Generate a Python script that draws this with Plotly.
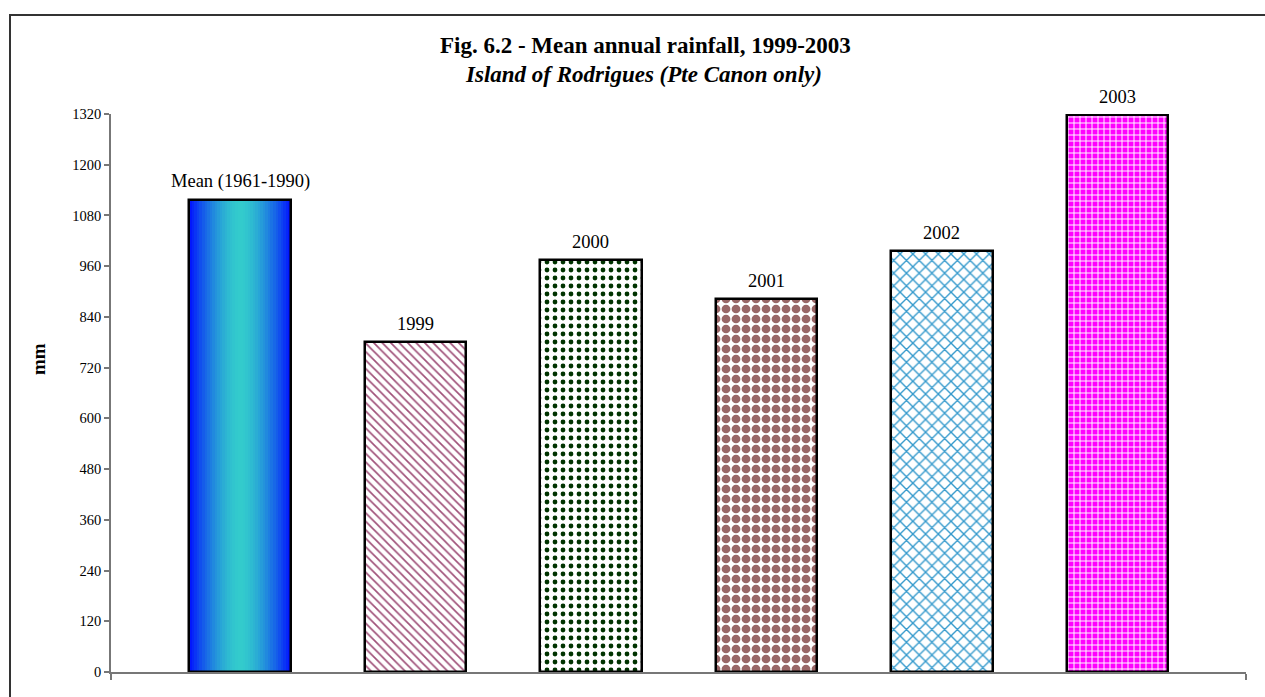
import plotly.graph_objects as go

# ---- data ----
categories = ["Mean (1961-1990)", "1999", "2000", "2001", "2002", "2003"]
rainfall_mm = [1116, 780, 975, 883, 996, 1318]
y_ticks = [0, 120, 240, 360, 480, 600, 720, 840, 960, 1080, 1200, 1320]

# ---- styles (years only) ----
pattern_shapes = ["\\", ".", ".", "x", "+"]
pattern_fg = ["#A0527A", "#003300", "#996666", "#3399CC", "#FFFFFF"]
pattern_bg = ["#FFFFFF", "#FFFFFF", "#FFFFFF", "#FFFFFF", "#FF00FF"]
pattern_size = [6, 8, 10, 9, 6]
pattern_solidity = [0.28, 0.28, 0.6, 0.28, 0.3]

FONT = "Liberation Serif, Times New Roman, serif"
BAR_W = 0.578

x_pos = list(range(len(categories)))

fig = go.Figure()

# gradient for the mean bar (vertical strips, blue edges -> turquoise centre)
N = 40
edge = (0, 16, 255)
centre = (51, 204, 204)
strip_w = BAR_W / N
for i in range(N):
    t = abs((i + 0.5) - N / 2) / (N / 2)
    t = t ** 1.6
    col = tuple(round(centre[k] + (edge[k] - centre[k]) * t) for k in range(3))
    fig.add_trace(go.Bar(
        x=[x_pos[0]], y=[rainfall_mm[0]],
        width=strip_w * 1.05, offset=-BAR_W / 2 + i * strip_w,
        marker=dict(color="rgb(%d,%d,%d)" % col, line=dict(width=0)),
        hoverinfo="skip", showlegend=False,
    ))

# mean outline
fig.add_trace(go.Bar(
    x=[x_pos[0]], y=[rainfall_mm[0]], width=BAR_W,
    marker=dict(color="rgba(0,0,0,0)", line=dict(color="#000000", width=2.5)),
    showlegend=False, hovertext=[categories[0]], hoverinfo="text+y",
))

# year bars, one trace each with its own pattern
for j in range(1, len(categories)):
    k = j - 1
    fig.add_trace(go.Bar(
        x=[x_pos[j]], y=[rainfall_mm[j]], width=BAR_W,
        marker=dict(
            color=pattern_bg[k],
            line=dict(color="#000000", width=2.5),
            pattern=dict(shape=pattern_shapes[k], fgcolor=pattern_fg[k],
                         bgcolor=pattern_bg[k], size=pattern_size[k],
                         solidity=pattern_solidity[k], fillmode="overlay",
                         fgopacity=1),
        ),
        showlegend=False, hovertext=[categories[j]], hoverinfo="text+y",
    ))

# data labels
for xi, yi, lab in zip(x_pos, rainfall_mm, categories):
    fig.add_annotation(x=xi, y=yi, text=lab, showarrow=False, yanchor="bottom",
                       yshift=6, font=dict(family=FONT, size=18.5, color="#000000"))

# plot geometry (pixels)
L, R, T, B = 111, 19, 114, 25
W, H = 1265, 697
pw, ph = W - L - R, H - T - B
def px_x(x):
    return (x - L) / pw
def px_y(y):
    return (H - B - y) / ph

# titles
fig.add_annotation(xref="paper", yref="paper", x=px_x(645), y=px_y(46),
                   text="<b>Fig. 6.2 - Mean annual rainfall, 1999-2003</b>",
                   showarrow=False, xanchor="center", yanchor="middle",
                   font=dict(family=FONT, size=23, color="#000000"))
fig.add_annotation(xref="paper", yref="paper", x=px_x(643), y=px_y(74),
                   text="<b><i>Island of Rodrigues (Pte Canon only)</i></b>",
                   showarrow=False, xanchor="center", yanchor="middle",
                   font=dict(family=FONT, size=23, color="#000000"))
fig.add_annotation(xref="paper", yref="paper", x=px_x(38), y=px_y(359),
                   text="<b>mm</b>", textangle=-90,
                   showarrow=False, xanchor="center", yanchor="middle",
                   font=dict(family=FONT, size=19, color="#000000"))

# outer frame
fig.add_shape(type="rect", xref="paper", yref="paper",
              x0=px_x(10), x1=px_x(1290), y0=px_y(720), y1=px_y(15),
              line=dict(color="#333333", width=2), fillcolor="rgba(0,0,0,0)", layer="below")

x_lo = (111 - 240) / 175.4
x_hi = (1245.7 - 240) / 175.4

fig.update_layout(
    width=W, height=H,
    margin=dict(l=L, r=R, t=T, b=B, pad=0),
    paper_bgcolor="#FFFFFF", plot_bgcolor="#FFFFFF",
    barmode="overlay", bargap=0,
    showlegend=False,
    font=dict(family=FONT, color="#000000"),
    xaxis=dict(range=[x_lo, x_hi], showgrid=False, zeroline=False,
               showline=True, linecolor="#777777", linewidth=1.5,
               tickmode="array", tickvals=[x_lo, x_hi], ticktext=["", ""],
               ticks="outside", ticklen=6, tickwidth=1.5, tickcolor="#777777",
               showticklabels=False, fixedrange=True),
    yaxis=dict(range=[0, 1320], tickmode="array", tickvals=y_ticks,
               showgrid=False, zeroline=False,
               showline=True, linecolor="#777777", linewidth=1.5,
               ticks="outside", ticklen=5, tickwidth=1.5, tickcolor="#777777",
               tickfont=dict(family=FONT, size=14.5, color="#000000"),
               fixedrange=True),
)

fig.write_html("out.html", config={"displayModeBar": False},
               post_script="document.body.style.margin='0';")
